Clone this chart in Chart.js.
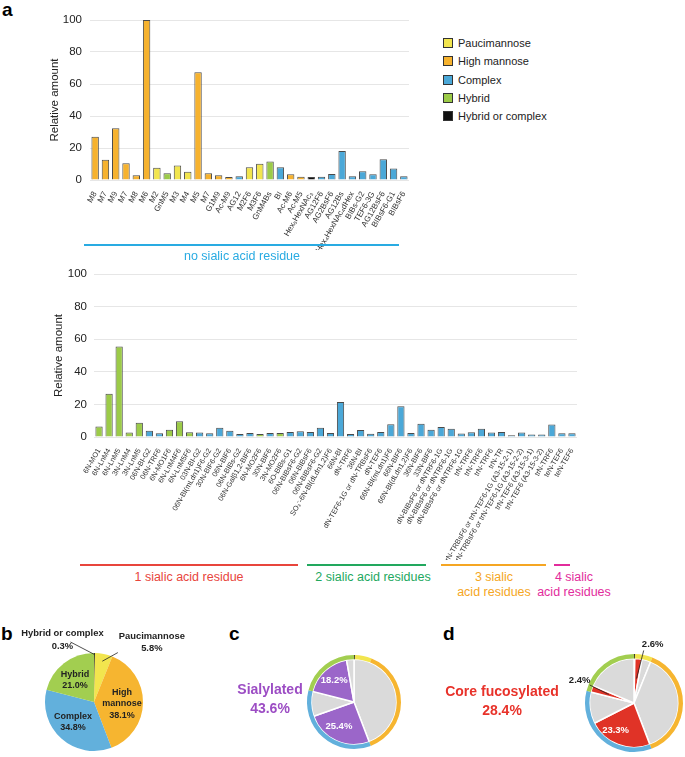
<!DOCTYPE html>
<html>
<head>
<meta charset="utf-8">
<script src="https://cdn.jsdelivr.net/npm/chart.js@4.4.0/dist/chart.umd.min.js"></script>
<style>
body { margin: 0; background: #fff; font-family: Arial, "Liberation Sans", Helvetica, sans-serif; }
#page { position: relative; width: 685px; height: 757px; overflow: hidden; }
canvas { position: absolute; }
.panel { position: absolute; font-weight: bold; font-size: 19px; color: #000; line-height: 19px; }
.legend div { position: absolute; font-size: 11px; color: #222; white-space: nowrap; line-height: 12px; }
.legend span { display: inline-block; width: 8px; height: 8px; border: 1px solid #333; margin-right: 5px; vertical-align: -1px; }
.brk { position: absolute; height: 0; border-top: 2px solid; }
.btxt { position: absolute; font-size: 12.5px; text-align: center; line-height: 15px; white-space: nowrap; transform: translateX(-50%); }
.big { position: absolute; font-weight: bold; font-size: 14px; text-align: center; line-height: 19px; white-space: nowrap; transform: translateX(-50%); }
</style>
</head>
<body>
<div id="page">
  <div class="panel" style="left:2px;top:0px">a</div>
  <div class="panel" style="left:1px;top:624px">b</div>
  <div class="panel" style="left:229px;top:624px">c</div>
  <div class="panel" style="left:443px;top:624px">d</div>

  <canvas id="topChart" width="420" height="250" style="left:0;top:0"></canvas>
  <canvas id="botChart" width="590" height="305" style="left:0;top:255px"></canvas>
  <div class="legend" id="legend" style="position:absolute;left:443px;top:37px"></div>

  <div class="brk" style="left:84px;width:315px;top:244px;border-color:#29ABE2"></div>
  <div class="btxt" style="left:242px;top:249px;color:#29ABE2">no sialic acid residue</div>

  <div class="brk" style="left:80px;width:218px;top:564px;border-color:#E8453C"></div>
  <div class="btxt" style="left:189px;top:570px;color:#E8453C">1 sialic acid residue</div>
  <div class="brk" style="left:307px;width:119px;top:564px;border-color:#22A85E"></div>
  <div class="btxt" style="left:373px;top:570px;color:#22A85E">2 sialic acid residues</div>
  <div class="brk" style="left:441px;width:105px;top:564px;border-color:#F5A623"></div>
  <div class="btxt" style="left:494px;top:570px;color:#F5A623">3 sialic<br>acid residues</div>
  <div class="brk" style="left:554px;width:16px;top:564px;border-color:#E22C9C"></div>
  <div class="btxt" style="left:574px;top:570px;color:#E22C9C">4 sialic<br>acid residues</div>

  <canvas id="pieB" width="230" height="157" style="left:0;top:600px"></canvas>
  <canvas id="pieC" width="190" height="157" style="left:230px;top:600px"></canvas>
  <canvas id="pieD" width="245" height="157" style="left:440px;top:600px"></canvas>

  <div class="big" style="left:270px;top:680px;color:#9C4DC4">Sialylated<br>43.6%</div>
  <div class="big" style="left:502px;top:682px;color:#E8322A">Core fucosylated<br>28.4%</div>
</div>

<script>
// ======================================
// DATA
// ======================================
// type codes: P paucimannose, M high mannose, C complex, H hybrid, X hybrid or complex
const typeNames = ["Paucimannose", "High mannose", "Complex", "Hybrid", "Hybrid or complex"];
const typeCodes = ["P", "M", "C", "H", "X"];

const topLabels = ["M8", "M7", "M9", "M7", "M8", "M6", "M2", "GnM5", "M3", "M4", "M5", "M7", "G1M9", "Ac-M9",
    "AG12", "M2F6", "M3F6", "GnM4Bs", "BI", "Ac-M6", "Ac-M5", "Hex₅HexNAc₃", "AG12F6", "AG2BsF6", "AG12Bs",
    "Hex₄HexNAc₄dHex", "BIBs-G2", "TEF6-3G", "AG12BsF6", "BIBsF6-G1", "BIBsF6"];
const topValues = [27.1, 12.7, 32.3, 10.4, 2.9, 100, 7.7, 4.2, 9.0, 5.2, 67.3, 4.2, 2.9, 1.9,
    2.3, 8.0, 10.1, 11.6, 8.0, 3.6, 2.1, 1.9, 2.1, 3.8, 18.1,
    2.3, 5.5, 3.6, 13.0, 7.2, 2.3];
const topTypes = ["M", "M", "M", "M", "M", "M", "P", "H", "P", "P", "M", "M", "M", "M",
    "C", "P", "P", "H", "C", "M", "M", "X", "C", "C", "C",
    "C", "C", "C", "C", "C", "C"];

const botLabels = ["6N-MO1", "6N-LnM4", "6N-LnM5", "3N-LnM4", "3N-LnM5", "06N-BI-G2", "06N-TRF6", "6N-MO1F6",
    "6N-LnM4F6", "6N-LnM5F6", "03N-BI-G2", "06N-BI(mLdn1)F6-G2", "30N-BIF6-G2", "06N-BIF6", "06N-BIBs-G2",
    "06N-Galβ1,2-BIF6", "6N-MO2F6", "30N-BIF6", "3N-MO2F6", "6O-BIBs-G1", "06N-BIBsF6-G2", "06N-BIBsF6",
    "06N-BIBsF6-G2", "SO₃⁻-6N-BI(dLdn1,2)F6", "66N-BI", "dN-TRF6", "36N-BI", "dN-TEF6-1G or dN-TRBsF6",
    "dN-TEF6", "66N-BI(mLdn1)F6", "66N-BIF6", "66N-BI(dLdn1,2)F6", "36N-BIF6", "33N-BIF6",
    "dN-BIBsF6 or dNTRF6-1G", "dN-BIBsF6 or dNTRF6-1G", "dN-BIBsF6 or dNTRF6-1G",
    "trN-TRF6", "trN-TRF6", "trN-TRF6", "trN-TR",
    "trN-TRBsF6 or trN-TEF6-1G (A3-15-2-1)", "trN-TRBsF6 or trN-TEF6-1G (A3-15-2-2)",
    "trN-TEF6 (A3-15-3-1)", "trN-TEF6 (A3-15-3-2)", "trN-TRF6", "teN-TEF6", "teN-TEF6"];
const botValues = [6.4, 26.6, 55.5, 2.7, 8.8, 3.9, 2.3, 4.5,
    9.6, 2.9, 2.7, 2.3, 5.7, 3.8, 1.9,
    2.5, 1.8, 2.5, 2.5, 3.1, 3.5, 3.1,
    5.7, 2.5, 21.5, 1.8, 4.3, 2.0,
    3.1, 7.8, 18.9, 2.5, 8.2, 4.5,
    6.2, 5.0, 2.2,
    2.9, 5.0, 2.8, 3.0,
    1.0, 2.7,
    1.6, 1.6, 7.6, 2.3, 2.3];
const botTypes = ["H", "H", "H", "H", "H", "C", "C", "H",
    "H", "H", "C", "C", "C", "C", "C",
    "C", "H", "C", "H", "C", "C", "C",
    "C", "C", "C", "C", "C", "C",
    "C", "C", "C", "C", "C", "C",
    "C", "C", "C",
    "C", "C", "C", "C",
    "C", "C",
    "C", "C", "C", "C", "C"];

// pie b / outer rings (clockwise from top)
const pieTypes = ["X", "P", "M", "C", "H"];
const pieShares = [0.3, 5.8, 38.1, 34.8, 21.0];
// pie c inner: 1 = sialylated
const sialShares = [44.2, 25.4, 9.4, 18.2, 2.8];
const sialFlags = [0, 1, 0, 1, 0];
// pie d inner: 1 = core fucosylated
const fucShares = [0.3, 2.6, 3.2, 38.1, 23.3, 11.5, 2.4, 18.6];
const fucFlags = [0, 1, 0, 0, 1, 0, 1, 0];

// ======================================
// STYLE
// ======================================
const barColors = { P: "#F2E54E", M: "#F6B22E", C: "#4BA8D8", H: "#9CCB48", X: "#111111" };
const pieColors = { P: "#F2E54E", M: "#F6B530", C: "#62B0DC", H: "#A2CE50", X: "#111111" };
const grey = "#DADADA";

Chart.defaults.font.family = 'Arial, "Liberation Sans", Helvetica, sans-serif';
Chart.defaults.animation = false;

// legend
const legend = document.getElementById("legend");
typeNames.forEach((name, i) => {
    const d = document.createElement("div");
    d.style.top = (i * 18.3) + "px";
    d.innerHTML = '<span style="background:' + barColors[typeCodes[i]] + '"></span>' + name;
    legend.appendChild(d);
});

// ======================================
// BAR CHARTS
// ======================================
function barChart(id, labels, values, types, o) {
    return new Chart(document.getElementById(id), {
        type: "bar",
        data: {
            labels: labels,
            datasets: [{
                data: values,
                backgroundColor: types.map(t => barColors[t]),
                borderColor: "#4a4a4a",
                borderWidth: 1,
                barPercentage: 0.72,
                categoryPercentage: 1
            }]
        },
        options: {
            responsive: false,
            layout: { padding: { top: o.top, right: o.right, left: o.left, bottom: 0 } },
            plugins: { legend: { display: false }, tooltip: { enabled: false } },
            scales: {
                x: {
                    grid: { display: false },
                    border: { display: false },
                    ticks: { autoSkip: false, minRotation: 60, maxRotation: 60, padding: 2,
                        font: { size: o.tickSize }, color: "#333" },
                    afterFit: s => { s.height = o.xh; }
                },
                y: {
                    min: 0, max: 100,
                    ticks: { stepSize: 20, padding: o.ypad, font: { size: 11.5 }, color: "#222" },
                    grid: { color: "#e6e6e6", drawTicks: false },
                    border: { display: false },
                    title: { display: true, text: "Relative amount", font: { size: 11.5 }, color: "#222",
                        padding: { top: 0, bottom: 4 } },
                    afterFit: s => { s.width = 42; }
                }
            }
        }
    });
}

barChart("topChart", topLabels, topValues, topTypes, { top: 20, right: 11, left: 48, xh: 70, tickSize: 8, ypad: 8 });
barChart("botChart", botLabels, botValues, botTypes, { top: 19, right: 13, left: 52, xh: 123, tickSize: 7.3, ypad: 7 });

// ======================================
// PIES
// ======================================
const sliceText = {
    id: "sliceText",
    afterDatasetsDraw(chart, args, opts) {
        const ctx = chart.ctx;
        (opts.items || []).forEach(it => {
            const arc = chart.getDatasetMeta(it.ds).data[it.i];
            const mid = (arc.startAngle + arc.endAngle) / 2;
            const R = chart.getDatasetMeta(chart.data.datasets.length - 1).data[0].outerRadius;
            const px = arc.x + Math.cos(mid) * R * it.r;
            const py = arc.y + Math.sin(mid) * R * it.r;
            const tx = px + (it.dx || 0), ty = py + (it.dy || 0);
            ctx.save();
            if (it.leader) {
                ctx.strokeStyle = "#222";
                ctx.lineWidth = 0.8;
                ctx.beginPath();
                ctx.moveTo(arc.x + Math.cos(mid) * R * it.leader[0], arc.y + Math.sin(mid) * R * it.leader[0]);
                ctx.lineTo(tx + it.leader[1], ty + it.leader[2]);
                ctx.stroke();
            }
            ctx.fillStyle = it.color || "#222";
            ctx.font = "bold " + (it.size || 9) + "px Arial, 'Liberation Sans', sans-serif";
            ctx.textAlign = "center";
            ctx.textBaseline = "middle";
            const lh = (it.size || 9) * 1.3;
            it.lines.forEach((ln, k) => {
                ctx.fillText(ln, tx, ty + (k - (it.lines.length - 1) / 2) * lh);
            });
            ctx.restore();
        });
    }
};

function pieOpts(pad, items) {
    return {
        responsive: false,
        layout: { padding: pad },
        plugins: { legend: { display: false }, tooltip: { enabled: false }, sliceText: { items: items } }
    };
}

new Chart(document.getElementById("pieB"), {
    type: "pie",
    data: {
        labels: typeNames,
        datasets: [{ data: pieShares, backgroundColor: pieTypes.map(t => pieColors[t]),
            borderWidth: 0, hoverOffset: 0 }]
    },
    options: pieOpts({ left: 45, right: 87, top: 53, bottom: 6 }, [
        { ds: 0, i: 0, r: 1, dx: -32, dy: -13, lines: ["Hybrid or complex", "0.3%"], size: 9.4, leader: [0.97, 8, 2] },
        { ds: 0, i: 1, r: 0.8, dx: 50, dy: -21, lines: ["Paucimannose", "5.8%"], size: 9.4, leader: [0.85, -34, 10] },
        { ds: 0, i: 2, r: 0, dx: 28, dy: 2, lines: ["High", "mannose", "38.1%"] },
        { ds: 0, i: 3, r: 0, dx: -21, dy: 20, lines: ["Complex", "34.8%"] },
        { ds: 0, i: 4, r: 0, dx: -19, dy: -22, lines: ["Hybrid", "21.0%"] }
    ]),
    plugins: [sliceText]
});

function ringPie(id, shares, flags, flagColor, pad, items) {
    return new Chart(document.getElementById(id), {
        type: "doughnut",
        data: {
            datasets: [
                { data: pieShares, backgroundColor: pieTypes.map(t => pieColors[t]),
                    borderWidth: 0, hoverOffset: 0, weight: 1 },
                { data: shares, backgroundColor: flags.map(f => f ? flagColor : grey),
                    borderColor: "#fff", borderWidth: 1.5, hoverOffset: 0, weight: 10 }
            ]
        },
        options: Object.assign({ cutout: 0 }, pieOpts(pad, items)),
        plugins: [sliceText]
    });
}

ringPie("pieC", sialShares, sialFlags, "#9B66C9", { left: 77, right: 19, top: 55, bottom: 8 }, [
    { ds: 1, i: 3, r: 0.68, lines: ["18.2%"], color: "#fff", size: 9.5 },
    { ds: 1, i: 1, r: 0.62, dx: -4, lines: ["25.4%"], color: "#fff", size: 9.5 }
]);

ringPie("pieD", fucShares, fucFlags, "#E03327", { left: 145, right: 2, top: 54, bottom: 5 }, [
    { ds: 1, i: 4, r: 0.65, dx: -8, lines: ["23.3%"], color: "#fff", size: 9.5 },
    { ds: 1, i: 1, r: 1.05, dx: 14, dy: -12, lines: ["2.6%"], size: 9.5, leader: [0.55, -9, 6] },
    { ds: 1, i: 6, r: 1.05, dx: -10, dy: -8, lines: ["2.4%"], size: 9.5, leader: [0.6, 10, 5] }
]);
</script>
</body>
</html>
